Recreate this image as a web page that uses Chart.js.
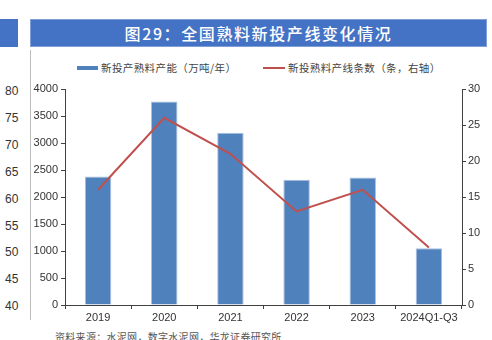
<!DOCTYPE html>
<html>
<head>
<meta charset="utf-8">
<script src="https://cdn.jsdelivr.net/npm/chart.js@4.4.0/dist/chart.umd.min.js"></script>
<style>
  html, body { margin: 0; padding: 0; background: #fff; }
  body { width: 492px; height: 340px; position: relative; overflow: hidden;
         font-family: "Liberation Sans", Arial, sans-serif; }
  #chart { position: absolute; left: 0; top: 0; }
  .bar-left { position: absolute; left: 0; top: 19px; width: 18px; height: 28px; background: #4472C4; }
  .title { position: absolute; left: 30px; top: 19px; width: 457px; height: 28px; background: #4472C4;
           box-sizing: border-box; border: 1px solid #7f9fd6;
           color: #fff; font-family: "Noto Sans CJK SC", sans-serif; font-size: 16px; font-weight: 500;
           line-height: 26px; text-align: center; letter-spacing: 1.6px; }
  .frame { position: absolute; left: 30px; top: 50px; width: 1px; height: 270px; background: #bdbdbd; }
  .outer { position: absolute; left: 5px; font-size: 12px; color: #333; line-height: 12px; }
  .legend { position: absolute; top: 61px; font-family: "Noto Sans CJK SC", sans-serif; font-size: 10.5px;
            color: #444; letter-spacing: 0.4px; line-height: 14px; }
  .sw-bar { position: absolute; left: 77px; top: 66px; width: 21px; height: 4px; background: #4F81BD; }
  .sw-line { position: absolute; left: 263px; top: 67px; width: 22px; height: 2px; background: #C0504D; }
  .source { position: absolute; left: 55px; top: 330px; font-family: "Noto Sans CJK SC", sans-serif;
            font-size: 10px; color: #555; letter-spacing: 0.3px; line-height: 14px; }
</style>
</head>
<body>
<div class="bar-left"></div>
<div class="title">图29：全国熟料新投产线变化情况</div>
<div class="frame"></div>
<div id="outer"></div>
<div class="sw-bar"></div>
<div class="legend" style="left:101px">新投产熟料产能（万吨/年）</div>
<div class="sw-line"></div>
<div class="legend" style="left:288px">新投熟料产线条数（条，右轴）</div>
<div class="source">资料来源：水泥网，数字水泥网，华龙证券研究所</div>
<canvas id="chart" width="492" height="340"></canvas>
<script>
// Years on the x axis
const categories = ['2019', '2020', '2021', '2022', '2023', '2024Q1-Q3'];
// New clinker capacity put into production (10k tonnes / year)
const capacity = [2380, 3770, 3190, 2320, 2360, 1050];
// Number of new clinker lines (right axis)
const lineCount = [16, 26, 21, 13, 16, 8];
// Axis label column from the neighbouring panel
const outerLabels = ['80', '75', '70', '65', '60', '55', '50', '45', '40'];

const outer = document.getElementById('outer');
outerLabels.forEach((t, i) => {
  const d = document.createElement('div');
  d.className = 'outer';
  d.style.top = (85 + i * 26.9) + 'px';
  d.textContent = t;
  outer.appendChild(d);
});

const axisColor = '#404040';
const tickFont = { family: '"Liberation Sans", Arial, sans-serif', size: 11 };
const plain = v => String(v);

new Chart(document.getElementById('chart'), {
  data: {
    labels: categories,
    datasets: [
      {
        type: 'line',
        label: '新投熟料产线条数（条，右轴）',
        data: lineCount,
        yAxisID: 'y1',
        borderColor: '#C0504D',
        borderWidth: 2,
        pointRadius: 0,
        tension: 0,
        order: 0
      },
      {
        type: 'bar',
        label: '新投产熟料产能（万吨/年）',
        data: capacity,
        yAxisID: 'y',
        backgroundColor: '#4F81BD',
        borderColor: '#a9c0e0',
        borderWidth: 1,
        barPercentage: 0.4,
        categoryPercentage: 1,
        order: 1
      }
    ]
  },
  options: {
    responsive: false,
    animation: false,
    layout: { padding: { left: 20, right: 5, top: 89, bottom: 15 } },
    plugins: { legend: { display: false }, tooltip: { enabled: false } },
    scales: {
      x: {
        offset: true,
        grid: { display: true, drawOnChartArea: false, drawTicks: true, tickLength: 4, color: axisColor, offset: true },
        border: { display: true, color: axisColor, width: 1 },
        ticks: { color: '#333', font: tickFont, padding: 2, maxRotation: 0, autoSkip: false },
        afterFit(s) { s.height = 20; }
      },
      y: {
        position: 'left',
        min: 0, max: 4000,
        ticks: { stepSize: 500, color: '#333', font: tickFont, padding: 3, callback: plain },
        grid: { display: true, drawOnChartArea: false, drawTicks: true, tickLength: 4, color: axisColor },
        border: { display: true, color: axisColor, width: 1 },
        afterFit(s) { s.width = 45; }
      },
      y1: {
        position: 'right',
        min: 0, max: 30,
        ticks: { stepSize: 5, color: '#333', font: tickFont, padding: 2, callback: plain },
        grid: { display: true, drawOnChartArea: false, drawTicks: true, tickLength: 4, color: axisColor },
        border: { display: true, color: axisColor, width: 1 },
        afterFit(s) { s.width = 25; }
      }
    }
  }
});
</script>
</body>
</html>
